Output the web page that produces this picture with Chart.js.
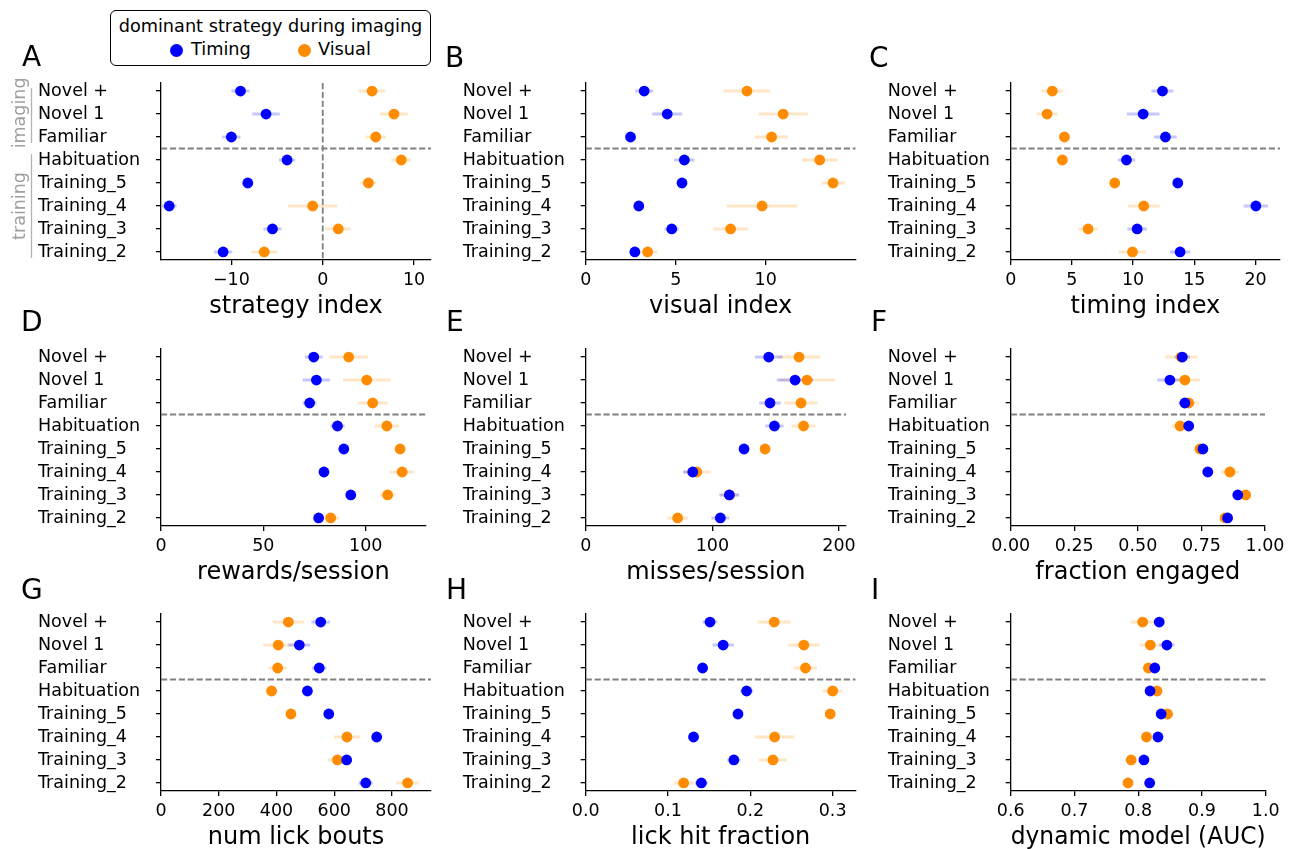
<!DOCTYPE html>
<html>
<head>
<meta charset="utf-8">
<script src="https://cdn.jsdelivr.net/npm/chart.js@4.4.1/dist/chart.umd.min.js"></script>
<style>
  body { margin: 0; width: 1295px; height: 849px; overflow: hidden; position: relative; background: #fff;
         font-family: "DejaVu Sans", sans-serif; color: #000; }
  .panel { position: absolute; }
  .letter { position: absolute; font-size: 28px; line-height: 1; }
  .legend { position: absolute; left: 110px; top: 10px; width: 321px; height: 56px; box-sizing: border-box;
            border: 1.3px solid #000; border-radius: 6px; font-size: 17.7px; }
  .legend .ttl { position: absolute; left: 0; right: 0; top: 5px; text-align: center; white-space: nowrap; }
  .legend .dot { position: absolute; top: 33px; width: 13px; height: 13px; border-radius: 50%; }
  .legend .lbl { position: absolute; top: 28px; white-space: nowrap; }
</style>
</head>
<body>

<div class="legend">
  <div class="ttl">dominant strategy during imaging</div>
  <div class="dot" style="left:59px;background:#0000ff"></div><div class="lbl" style="left:80px">Timing</div>
  <div class="dot" style="left:187px;background:#ff8c00"></div><div class="lbl" style="left:207px">Visual</div>
</div>

<script>
const sessions = ['Novel +', 'Novel 1', 'Familiar', 'Habituation', 'Training_5', 'Training_4', 'Training_3', 'Training_2'];
const groupNames = ['imaging', 'training'];

// mean and sem per session, split by dominant strategy
const strategyIndexTiming = [-9.0, -6.2, -10.0, -3.9, -8.2, -16.8, -5.5, -10.9];
const strategyIndexTimingSem = [1.0, 1.5, 1.0, 0.9, 0.5, 0.8, 1.0, 1.0];
const strategyIndexVisual = [5.4, 7.8, 5.8, 8.6, 5.0, -1.1, 1.7, -6.4];
const strategyIndexVisualSem = [1.45, 1.55, 1.1, 1.1, 0.9, 2.7, 1.4, 1.4];

const visualIndexTiming = [3.25, 4.53, 2.49, 5.48, 5.35, 2.95, 4.78, 2.73];
const visualIndexTimingSem = [0.5, 0.83, 0.2, 0.57, 0.2, 0.2, 0.4, 0.25];
const visualIndexVisual = [8.96, 10.97, 10.33, 13.0, 13.74, 9.8, 8.05, 3.44];
const visualIndexVisualSem = [1.3, 1.37, 0.93, 0.97, 0.65, 1.96, 0.97, 0.55];

const timingIndexTiming = [12.4, 10.82, 12.64, 9.46, 13.65, 20.03, 10.33, 13.84];
const timingIndexTimingSem = [0.9, 1.33, 0.93, 0.7, 0.3, 1.0, 0.8, 0.82];
const timingIndexVisual = [3.4, 2.97, 4.39, 4.22, 8.5, 10.87, 6.32, 9.95];
const timingIndexVisualSem = [0.9, 0.85, 0.4, 0.3, 0.3, 1.3, 0.8, 1.12];

const rewardsTiming = [74.6, 75.9, 72.6, 86.2, 89.3, 79.6, 92.7, 77.0];
const rewardsTimingSem = [4.3, 6.7, 3.4, 3.5, 1.5, 1.5, 1.5, 2.0];
const rewardsVisual = [91.7, 100.5, 103.4, 110.3, 116.8, 117.8, 110.7, 82.9];
const rewardsVisualSem = [9.5, 11.6, 7.3, 6.0, 2.0, 5.9, 3.8, 4.0];

const missesTiming = [144.5, 165.3, 145.5, 149, 125, 84.5, 113.4, 106.3];
const missesTimingSem = [10.9, 14.5, 8.6, 7.2, 2, 7.5, 7.9, 7];
const missesVisual = [168.4, 174.7, 170, 172, 141.6, 87.6, 113.5, 72.6];
const missesVisualSem = [17, 22, 13, 9.5, 2, 11, 7, 8.3];

const engagedTiming = [0.675, 0.626, 0.685, 0.70, 0.756, 0.775, 0.893, 0.853];
const engagedTimingSem = [0.03, 0.05, 0.025, 0.015, 0.01, 0.01, 0.01, 0.01];
const engagedVisual = [0.67, 0.685, 0.70, 0.666, 0.744, 0.862, 0.924, 0.843];
const engagedVisualSem = [0.063, 0.06, 0.04, 0.033, 0.01, 0.036, 0.01, 0.015];

const lickBoutsTiming = [553, 479, 548, 507, 581, 747, 643, 709];
const lickBoutsTimingSem = [32, 38, 25, 15, 12, 15, 15, 25];
const lickBoutsVisual = [441, 406, 404, 383, 450, 644, 611, 854];
const lickBoutsVisualSem = [54, 52, 32, 20, 10, 45, 33, 39];

const hitFracTiming = [0.151, 0.167, 0.142, 0.1955, 0.185, 0.131, 0.18, 0.1405];
const hitFracTimingSem = [0.009, 0.013, 0.004, 0.008, 0.003, 0.003, 0.008, 0.008];
const hitFracVisual = [0.229, 0.265, 0.267, 0.300, 0.297, 0.2295, 0.2275, 0.119];
const hitFracVisualSem = [0.02, 0.019, 0.014, 0.012, 0.005, 0.024, 0.017, 0.012];

const aucTiming = [0.833, 0.845, 0.826, 0.8186, 0.836, 0.831, 0.809, 0.818];
const aucTimingSem = [0.005, 0.012, 0.005, 0.004, 0.005, 0.003, 0.003, 0.004];
const aucVisual = [0.807, 0.819, 0.816, 0.8295, 0.846, 0.813, 0.789, 0.784];
const aucVisualSem = [0.019, 0.017, 0.008, 0.005, 0.005, 0.008, 0.004, 0.004];

// x ticks
const strategyTicks = [-10, 0, 10];
const strategyTickLabels = ['−10', '0', '10'];
const visualIndexTicks = [0, 5, 10];
const visualIndexTickLabels = ['0', '5', '10'];
const timingIndexTicks = [0, 5, 10, 15, 20];
const timingIndexTickLabels = ['0', '5', '10', '15', '20'];
const rewardsTicks = [0, 50, 100];
const rewardsTickLabels = ['0', '50', '100'];
const missesTicks = [0, 100, 200];
const missesTickLabels = ['0', '100', '200'];
const engagedTicks = [0, 0.25, 0.5, 0.75, 1];
const engagedTickLabels = ['0.00', '0.25', '0.50', '0.75', '1.00'];
const lickBoutsTicks = [0, 200, 400, 600, 800];
const lickBoutsTickLabels = ['0', '200', '400', '600', '800'];
const hitFracTicks = [0, 0.1, 0.2, 0.3];
const hitFracTickLabels = ['0.0', '0.1', '0.2', '0.3'];
const aucTicks = [0.6, 0.7, 0.8, 0.9, 1.0];
const aucTickLabels = ['0.6', '0.7', '0.8', '0.9', '1.0'];

const BLUE = '#0000ff', ORANGE = '#ff8c00';
const BLUE_ERR = 'rgba(0,0,255,0.22)', ORANGE_ERR = 'rgba(255,140,0,0.22)';

Chart.defaults.font.family = '"DejaVu Sans", sans-serif';
Chart.defaults.color = '#000';

// grid geometry
const columns = [
  { x0: 0, labelLeft: 38, plotLeft: 161 },
  { x0: 430, labelLeft: 462.7, plotLeft: 585.7 },
  { x0: 860, labelLeft: 887.7, plotLeft: 1010.7 }
];
const rowTops = [83, 349, 614];
const PLOT_H = 177, PAD_TOP = 15, PAD_RIGHT = 28, X_AXIS_H = 61;
const YMIN = -0.35, YMAX = 7.35;
const LABEL_SIZE = 17.5, TITLE_SIZE = 24;

const panels = [
  { letter: 'A', row: 0, col: 0, right: 431, title: 'strategy index', min: -17.7, max: 11.85,
    ticks: strategyTicks, tickLabels: strategyTickLabels, zeroLine: true, brackets: true,
    timing: strategyIndexTiming, timingSem: strategyIndexTimingSem, visual: strategyIndexVisual, visualSem: strategyIndexVisualSem },
  { letter: 'B', row: 0, col: 1, right: 855.7, title: 'visual index', min: 0, max: 15.0,
    ticks: visualIndexTicks, tickLabels: visualIndexTickLabels,
    timing: visualIndexTiming, timingSem: visualIndexTimingSem, visual: visualIndexVisual, visualSem: visualIndexVisualSem },
  { letter: 'C', row: 0, col: 2, right: 1280, title: 'timing index', min: 0, max: 22.0,
    ticks: timingIndexTicks, tickLabels: timingIndexTickLabels,
    timing: timingIndexTiming, timingSem: timingIndexTimingSem, visual: timingIndexVisual, visualSem: timingIndexVisualSem },
  { letter: 'D', row: 1, col: 0, right: 425.7, title: 'rewards/session', min: 0, max: 129.3,
    ticks: rewardsTicks, tickLabels: rewardsTickLabels,
    timing: rewardsTiming, timingSem: rewardsTimingSem, visual: rewardsVisual, visualSem: rewardsVisualSem },
  { letter: 'E', row: 1, col: 1, right: 846, title: 'misses/session', min: 0, max: 205.5,
    ticks: missesTicks, tickLabels: missesTickLabels,
    timing: missesTiming, timingSem: missesTimingSem, visual: missesVisual, visualSem: missesVisualSem },
  { letter: 'F', row: 1, col: 2, right: 1265, title: 'fraction engaged', min: 0, max: 1,
    ticks: engagedTicks, tickLabels: engagedTickLabels,
    timing: engagedTiming, timingSem: engagedTimingSem, visual: engagedVisual, visualSem: engagedVisualSem },
  { letter: 'G', row: 2, col: 0, right: 431, title: 'num lick bouts', min: 0, max: 935,
    ticks: lickBoutsTicks, tickLabels: lickBoutsTickLabels,
    timing: lickBoutsTiming, timingSem: lickBoutsTimingSem, visual: lickBoutsVisual, visualSem: lickBoutsVisualSem },
  { letter: 'H', row: 2, col: 1, right: 855.7, title: 'lick hit fraction', min: 0, max: 0.328,
    ticks: hitFracTicks, tickLabels: hitFracTickLabels,
    timing: hitFracTiming, timingSem: hitFracTimingSem, visual: hitFracVisual, visualSem: hitFracVisualSem },
  { letter: 'I', row: 2, col: 2, right: 1265.7, title: 'dynamic model (AUC)', min: 0.6, max: 1.0,
    ticks: aucTicks, tickLabels: aucTickLabels,
    timing: aucTiming, timingSem: aucTimingSem, visual: aucVisual, visualSem: aucVisualSem }
];
const letterPos = { A: [22, 43], B: [445, 44], C: [869, 44], D: [21, 308], E: [446, 308], F: [871, 308], G: [21, 576], H: [446, 576], I: [871, 576] };

// "imaging" / "training" brackets left of the first panel
const groupBrackets = {
  id: 'groupBrackets',
  afterDraw(chart, args, opts) {
    if (!opts.groups) return;
    const { ctx, chartArea, scales: { y } } = chart;
    ctx.save();
    opts.groups.forEach(g => {
      const lx = chartArea.left - 129.5;
      ctx.strokeStyle = '#b4b4b4';
      ctx.lineWidth = 1.3;
      ctx.beginPath();
      ctx.moveTo(lx, y.getPixelForValue(g.from));
      ctx.lineTo(lx, y.getPixelForValue(g.to));
      ctx.stroke();
      ctx.save();
      ctx.translate(chartArea.left - 141, y.getPixelForValue(g.at));
      ctx.rotate(-Math.PI / 2);
      ctx.fillStyle = '#a0a0a0';
      ctx.font = LABEL_SIZE + 'px "DejaVu Sans"';
      ctx.textAlign = 'center';
      ctx.textBaseline = 'middle';
      ctx.fillText(g.name, 0, 0);
      ctx.restore();
    });
    ctx.restore();
  }
};

function errorBars(values, sems, color) {
  return values.map((v, i) => ({
    data: [{ x: v - sems[i], y: i }, { x: v + sems[i], y: i }],
    showLine: true, borderColor: color, borderWidth: 3, pointRadius: 0, order: 2
  }));
}

function dots(values, color, order) {
  return {
    data: values.map((v, i) => ({ x: v, y: i })),
    pointRadius: 5.4, pointHoverRadius: 5.4, pointBackgroundColor: color, pointBorderWidth: 0, order: order
  };
}

function refLine(points) {
  return { data: points, showLine: true, borderColor: '#808080', borderWidth: 1.8,
           borderDash: [6.2, 2.7], pointRadius: 0, order: 3 };
}

panels.forEach(p => {
  const col = columns[p.col];
  const w = Math.round(p.right + PAD_RIGHT - col.x0);
  const h = PAD_TOP + PLOT_H + X_AXIS_H;
  const padRight = w - (p.right - col.x0);

  const box = document.createElement('div');
  box.className = 'panel';
  box.style.left = col.x0 + 'px';
  box.style.top = (rowTops[p.row] - PAD_TOP) + 'px';
  const canvas = document.createElement('canvas');
  canvas.width = w; canvas.height = h;
  canvas.style.width = w + 'px'; canvas.style.height = h + 'px';
  box.appendChild(canvas);
  document.body.appendChild(box);

  const lp = letterPos[p.letter];
  const letter = document.createElement('div');
  letter.className = 'letter';
  letter.style.left = lp[0] + 'px';
  letter.style.top = lp[1] + 'px';
  letter.textContent = p.letter;
  document.body.appendChild(letter);

  const datasets = [
    dots(p.timing, BLUE, 0),
    dots(p.visual, ORANGE, 1),
    ...errorBars(p.timing, p.timingSem, BLUE_ERR),
    ...errorBars(p.visual, p.visualSem, ORANGE_ERR),
    refLine([{ x: p.min, y: 2.5 }, { x: p.max, y: 2.5 }])
  ];
  if (p.zeroLine) datasets.push(refLine([{ x: 0, y: YMIN }, { x: 0, y: YMAX }]));

  new Chart(canvas, {
    type: 'scatter',
    data: { datasets: datasets },
    plugins: p.brackets ? [groupBrackets] : [],
    options: {
      responsive: false,
      animation: false,
      events: [],
      layout: { padding: { left: col.labelLeft - col.x0, top: PAD_TOP, right: padRight, bottom: 0 } },
      plugins: {
        legend: { display: false },
        tooltip: { enabled: false },
        groupBrackets: p.brackets ? { groups: [
          { name: groupNames[0], from: -0.13, to: 2.26, at: 0.95 },
          { name: groupNames[1], from: 2.74, to: 7.26, at: 5 }
        ] } : {}
      },
      scales: {
        x: {
          type: 'linear', min: p.min, max: p.max,
          afterBuildTicks: s => { s.ticks = p.ticks.map(v => ({ value: v })); },
          afterFit: s => { s.height = X_AXIS_H; },
          ticks: { font: { size: LABEL_SIZE }, padding: 5, maxRotation: 0,
                   callback: (v, i) => p.tickLabels[i] },
          grid: { drawOnChartArea: false, tickLength: 5, color: '#000', lineWidth: 1.3 },
          border: { color: '#000', width: 1.3 },
          title: { display: true, text: p.title, font: { size: TITLE_SIZE }, padding: { top: 0, bottom: 0 } }
        },
        y: {
          type: 'linear', min: YMIN, max: YMAX, reverse: true,
          afterBuildTicks: s => { s.ticks = sessions.map((c, i) => ({ value: i })); },
          afterFit: s => { s.width = col.plotLeft - col.labelLeft; },
          ticks: { font: { size: LABEL_SIZE }, padding: 3, crossAlign: 'far',
                   callback: v => sessions[v] },
          grid: { drawOnChartArea: false, tickLength: 5, color: '#000', lineWidth: 1.3 },
          border: { color: '#000', width: 1.3 }
        }
      }
    }
  });
});
</script>
</body>
</html>
